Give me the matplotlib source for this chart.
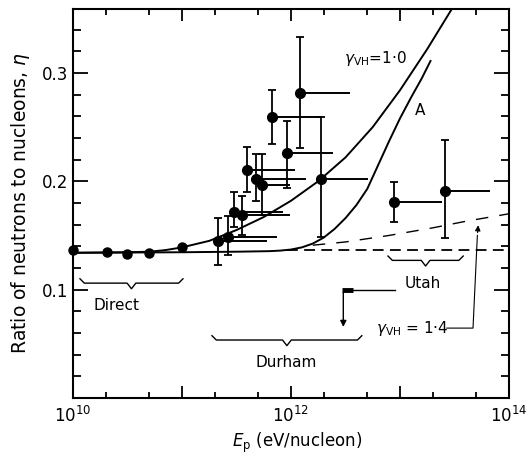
import numpy as np
import matplotlib
matplotlib.use("Agg")
import matplotlib.pyplot as plt
from matplotlib.ticker import FixedLocator, NullFormatter

# direct measurements
direct_logE = [10.0, 10.31, 10.5, 10.7, 11.0]
direct_eta = [0.137, 0.135, 0.133, 0.134, 0.139]

# Durham points: log10 E, eta, lower, upper, end of energy bar
durham_logE = [11.333, 11.419, 11.48, 11.548, 11.594, 11.676, 11.737, 11.823, 11.966, 12.083, 12.272]
durham_eta = [0.145, 0.149, 0.172, 0.169, 0.210, 0.2025, 0.197, 0.259, 0.226, 0.281, 0.202]
durham_lo = [0.123, 0.132, 0.158, 0.150, 0.190, 0.1815, 0.169, 0.234, 0.194, 0.231, 0.149]
durham_hi = [0.166, 0.168, 0.190, 0.186, 0.232, 0.225, 0.225, 0.284, 0.256, 0.333, 0.259]
durham_end = [11.78, 11.872, 11.927, 11.99, 12.037, 12.138, 11.99, 12.28, 12.385, 12.54, 12.706]

# Utah points
utah_logE = [12.945, 13.413]
utah_eta = [0.181, 0.191]
utah_lo = [0.162, 0.148]
utah_hi = [0.199, 0.238]
utah_end = [13.385, 13.826]

# Utah upper limit
limit_logE = 12.48
limit_eta = 0.1
limit_arrow_to = 0.063

# model curves (log10 E, eta)
g10_logE = [10.0, 10.5, 10.7, 10.85, 11.0, 11.25, 11.5, 11.75, 12.0, 12.25, 12.5, 12.75, 13.0, 13.25, 13.5]
g10_eta = [0.134, 0.1345, 0.135, 0.1365, 0.139, 0.145, 0.155, 0.167, 0.182, 0.200, 0.222, 0.250,
           0.284, 0.322, 0.363]

curveA_logE = [10.0, 11.0, 11.5, 11.8, 11.9, 12.0, 12.1, 12.2, 12.3, 12.4, 12.5, 12.6, 12.7, 12.8,
               12.9, 13.0, 13.1, 13.2, 13.28]
curveA_eta = [0.134, 0.1345, 0.135, 0.1355, 0.136, 0.137, 0.139, 0.1425, 0.148, 0.156, 0.166, 0.178,
              0.193, 0.215, 0.237, 0.258, 0.277, 0.295, 0.311]

g14_logE = [12.2, 12.5, 12.9, 13.3, 13.6, 14.0]
g14_eta = [0.141, 0.144, 0.150, 0.157, 0.163, 0.170]

flat_logE = [11.96, 14.0]
flat_eta = [0.137, 0.137]


def E(v):
    return 10 ** np.asarray(v, dtype=float)


def brace(ax, a, b, y, h=0.004):
    m = (a + b) / 2
    s = 0.04
    xs = [a, a + s, m - s, m, m + s, b - s, b]
    ys = [y + h, y, y, y - h * 1.3, y, y, y + h]
    ax.plot(E(xs), ys, color="k", lw=1.0)


fig = plt.figure(figsize=(5.27, 4.65), dpi=100)
ax = fig.add_axes([0.1385, 0.1441, 0.8273, 0.8366])
ax.set_xscale("log")
ax.set_xlim(1e10, 1e14)
ax.set_ylim(0, 0.359)

# curves
ax.plot(E(g10_logE), g10_eta, color="k", lw=1.4)
ax.plot(E(curveA_logE), curveA_eta, color="k", lw=1.4)
ax.plot(E(g14_logE), g14_eta, color="k", lw=1.0, dashes=(9, 8))
ax.plot(E(flat_logE), flat_eta, color="k", lw=1.3, dashes=(6, 3.5))

# direct points
ax.plot(E(direct_logE), direct_eta, "o", color="k", ms=6.5, clip_on=False)

# Durham + Utah points
for xs, ys, lo, hi, end in [(durham_logE, durham_eta, durham_lo, durham_hi, durham_end),
                            (utah_logE, utah_eta, utah_lo, utah_hi, utah_end)]:
    ys = np.array(ys)
    yerr = [ys - np.array(lo), np.array(hi) - ys]
    ax.errorbar(E(xs), ys, yerr=yerr, fmt="o", color="k", ms=7, capsize=3,
                elinewidth=1.3, capthick=1.3)
    ax.hlines(ys, E(xs), E(end), color="k", lw=1.4)

# upper limit from Utah
ax.plot(E([limit_logE - 0.01, limit_logE + 0.09]), [limit_eta, limit_eta], color="k", lw=3.5,
        solid_capstyle="butt")
ax.plot(E([limit_logE + 0.09, 12.95]), [limit_eta, limit_eta], color="k", lw=1.0)
ax.annotate("", xy=(E(limit_logE), limit_arrow_to), xytext=(E(limit_logE), limit_eta),
            arrowprops=dict(arrowstyle="-|>", color="k", lw=1.0, mutation_scale=9))

# braces and labels
brace(ax, 10.064, 11.009, 0.106)
brace(ax, 12.89, 13.58, 0.127)
brace(ax, 11.275, 12.65, 0.0535)
ax.text(E(10.40), 0.085, "Direct", ha="center", va="center", fontsize=11)
ax.text(E(13.21), 0.106, "Utah", ha="center", va="center", fontsize=11)
ax.text(E(11.96), 0.033, "Durham", ha="center", va="center", fontsize=11)
ax.text(E(12.77), 0.313, r"$\gamma_{\rm VH}$=1·0", ha="center", va="center", fontsize=11)
ax.text(E(13.18), 0.265, "A", ha="center", va="center", fontsize=11)
ax.text(E(13.11), 0.0645, r"$\gamma_{\rm VH}$ = 1·4", ha="center", va="center", fontsize=11)
ax.plot(E([13.43, 13.67, 13.71]), [0.0645, 0.0645, 0.15], color="k", lw=0.8)
ax.annotate("", xy=(E(13.72), 0.162), xytext=(E(13.71), 0.15),
            arrowprops=dict(arrowstyle="-|>", color="k", lw=0.8, mutation_scale=8))

# axes styling
for sp in ax.spines.values():
    sp.set_linewidth(1.5)

ax.xaxis.set_major_locator(FixedLocator([1e10, 1e11, 1e12, 1e13, 1e14]))
ax.set_xticklabels([r"$10^{10}$", "", r"$10^{12}$", "", r"$10^{14}$"])
minor_x = [m * 10 ** d for d in range(10, 14) for m in (2, 5)]
ax.xaxis.set_minor_locator(FixedLocator(minor_x))
ax.xaxis.set_minor_formatter(NullFormatter())

ax.yaxis.set_major_locator(FixedLocator([0.1, 0.2, 0.3]))
ax.set_yticklabels(["0.1", "0.2", "0.3"])
ax.yaxis.set_minor_locator(FixedLocator([v / 100 for v in range(2, 36, 2) if v % 10 != 0]))

ax.tick_params(axis="both", which="both", direction="in", top=True, right=True, width=1.3,
               labelsize=12)
ax.tick_params(axis="y", which="major", length=11)
ax.tick_params(axis="y", which="minor", length=5.5)
ax.tick_params(axis="x", which="major", length=8.5, pad=6)
ax.tick_params(axis="x", which="minor", length=4)

ax.set_xlabel(r"$E_{\rm p}$ (eV/nucleon)", fontsize=12)
ax.xaxis.set_label_coords(0.515, -0.085)
ax.set_ylabel(r"Ratio of neutrons to nucleons, $\eta$", fontsize=13.5)
ax.yaxis.set_label_coords(-0.095, 0.5)

fig.savefig("out.png", dpi=100)
